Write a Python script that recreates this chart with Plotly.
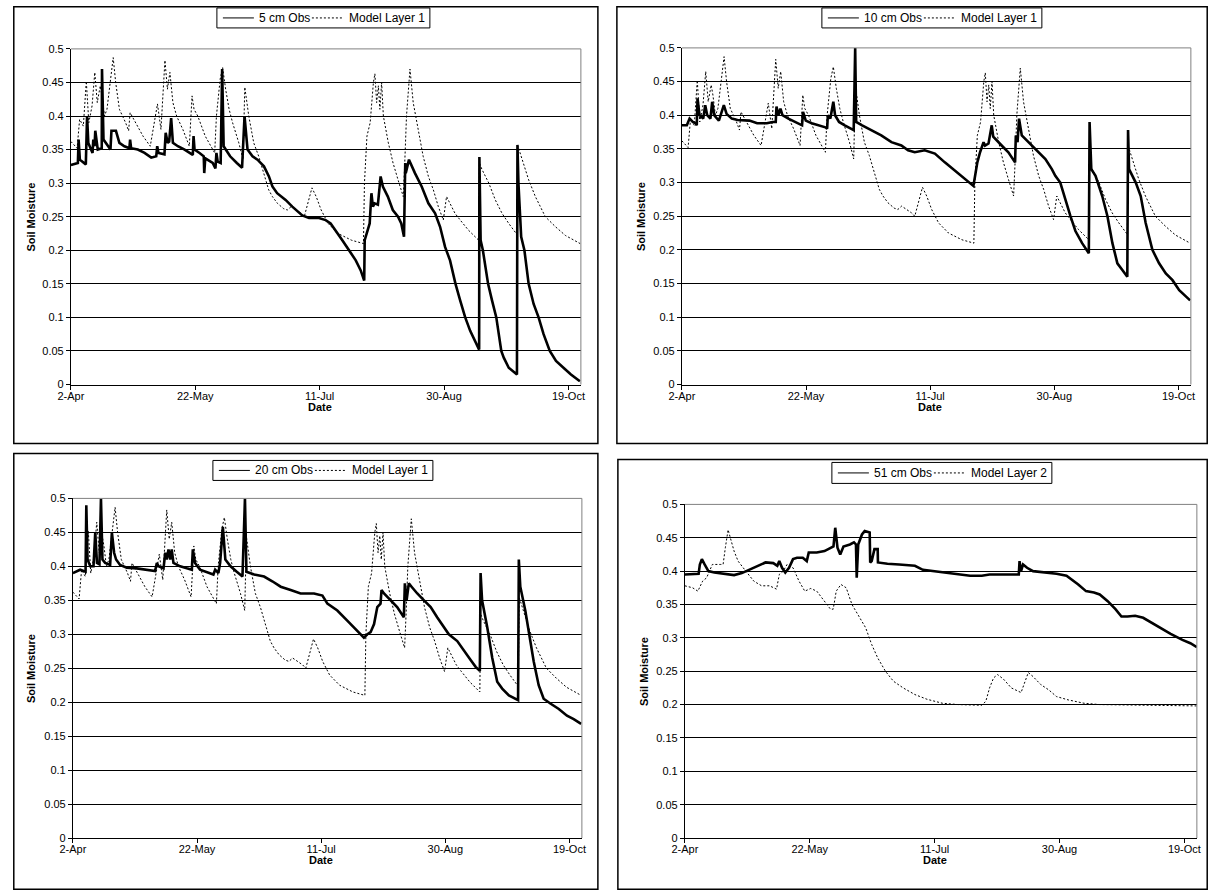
import pandas as pd
import plotly.graph_objects as go

# ---------------- data (day offsets from 2-Apr, soil moisture) ----------------
BASE_DATE = "2003-04-02"
X_END = "2003-10-24"
TICK_DATES = ["2003-04-02", "2003-05-22", "2003-07-11", "2003-08-30", "2003-10-19"]
TICK_TEXT = ["2-Apr", "22-May", "11-Jul", "30-Aug", "19-Oct"]
Y_TICKS = [0, 0.05, 0.1, 0.15, 0.2, 0.25, 0.3, 0.35, 0.4, 0.45, 0.5]
Y_TICK_TEXT = ["0", "0.05", "0.1", "0.15", "0.2", "0.25", "0.3", "0.35", "0.4", "0.45", "0.5"]

OBS_5CM = [
    (0, 0.327), (2.8, 0.33), (3.1, 0.365), (3.6, 0.335), (6.0, 0.328), (6.5, 0.40), (7.0, 0.36),
    (8.7, 0.345), (9.0, 0.365), (9.5, 0.355), (9.8, 0.378), (10.8, 0.35), (12.4, 0.352), (12.5, 0.47),
    (13.1, 0.365), (15.9, 0.35), (16.3, 0.378), (18.1, 0.378), (19.5, 0.36), (21.5, 0.355),
    (23.5, 0.352), (23.8, 0.365), (24.2, 0.352), (26.9, 0.35), (29.6, 0.345), (32.3, 0.338),
    (34.3, 0.34), (34.7, 0.355), (35.2, 0.345), (37.6, 0.343), (38.1, 0.375), (38.9, 0.36),
    (39.5, 0.362), (40.3, 0.397), (41.0, 0.36), (43.0, 0.355), (45.7, 0.35), (49.0, 0.342),
    (49.3, 0.37), (49.7, 0.35), (51.7, 0.345), (53.4, 0.34), (53.6, 0.315), (54.0, 0.337),
    (57.0, 0.33), (58.1, 0.322), (58.5, 0.345), (59.0, 0.332), (60.2, 0.33), (60.8, 0.47),
    (61.4, 0.355), (64.0, 0.34), (66.7, 0.33), (68.8, 0.323), (69.8, 0.40), (71.0, 0.35),
    (73.0, 0.34), (75.0, 0.335), (77.6, 0.325), (79.6, 0.31), (81.0, 0.295), (82.9, 0.285),
    (86.3, 0.275), (89.0, 0.265), (93.0, 0.252), (95.7, 0.248), (99.7, 0.248), (102.4, 0.245),
    (104.4, 0.24), (106.4, 0.23), (109.1, 0.215), (111.8, 0.20), (114.5, 0.185), (116.5, 0.17),
    (117.9, 0.155), (118.1, 0.215), (119.5, 0.235), (120.1, 0.24), (120.8, 0.285), (121.4, 0.265),
    (122.1, 0.27), (123.4, 0.268), (124.5, 0.31), (125.4, 0.295), (127.4, 0.28), (129.4, 0.26),
    (131.5, 0.25), (132.8, 0.24), (133.9, 0.22), (134.1, 0.32), (134.4, 0.33), (134.6, 0.315),
    (135.9, 0.335), (138.3, 0.315), (141.0, 0.295), (143.7, 0.27), (146.4, 0.255), (148.4, 0.235),
    (150.4, 0.205), (152.4, 0.185), (154.6, 0.15), (156.5, 0.125), (158.5, 0.10), (160.5, 0.08),
    (162.5, 0.065), (164.1, 0.052), (164.2, 0.339), (164.7, 0.215), (165.6, 0.20), (167.7, 0.15),
    (169.3, 0.125), (171.0, 0.10), (173.0, 0.05), (174.0, 0.04), (176.0, 0.025), (179.3, 0.015),
    (179.5, 0.357), (179.9, 0.30), (181.0, 0.22), (182.3, 0.20), (184.0, 0.15), (186.0, 0.12),
    (188.0, 0.10), (190.0, 0.075), (192.5, 0.05), (195.0, 0.035), (198.0, 0.025), (201.0, 0.015),
    (204.6, 0.005),
]

OBS_10CM = [
    (0, 0.385), (2.0, 0.385), (3.1, 0.395), (4.4, 0.39), (5.6, 0.388), (6.0, 0.385), (6.3, 0.425),
    (7.1, 0.40), (8.6, 0.395), (9.4, 0.415), (10.2, 0.40), (11.5, 0.395), (12.2, 0.42), (13.0, 0.40),
    (14.9, 0.392), (16.9, 0.415), (18.0, 0.402), (20.1, 0.395), (22.4, 0.393), (27.2, 0.392),
    (30.3, 0.388), (34.2, 0.388), (36.6, 0.39), (37.8, 0.39), (38.1, 0.413), (38.9, 0.40),
    (39.7, 0.41), (40.5, 0.40), (42.9, 0.395), (46.0, 0.39), (48.4, 0.385), (48.8, 0.405),
    (49.9, 0.392), (52.3, 0.388), (55.4, 0.385), (57.8, 0.382), (58.5, 0.38), (58.8, 0.40),
    (59.8, 0.395), (61.0, 0.42), (61.7, 0.40), (63.3, 0.39), (65.6, 0.385), (68.0, 0.38),
    (69.2, 0.378), (69.8, 0.50), (70.2, 0.39), (72.6, 0.385), (75.3, 0.38), (80.3, 0.37),
    (84.4, 0.36), (88.4, 0.355), (91.1, 0.348), (93.8, 0.345), (97.8, 0.348), (101.9, 0.343),
    (105.9, 0.33), (110.0, 0.318), (114.0, 0.305), (117.4, 0.295), (118.1, 0.31), (119.0, 0.33),
    (120.1, 0.345), (121.5, 0.36), (122.1, 0.355), (123.5, 0.358), (124.8, 0.385), (125.4, 0.368),
    (128.8, 0.355), (131.5, 0.345), (134.2, 0.33), (134.5, 0.37), (135.2, 0.36), (135.8, 0.395),
    (136.9, 0.37), (139.6, 0.36), (142.3, 0.35), (146.4, 0.335), (149.0, 0.32), (150.4, 0.31),
    (152.4, 0.30), (154.4, 0.275), (156.5, 0.25), (158.5, 0.228), (161.2, 0.21), (163.9, 0.195),
    (164.2, 0.39), (164.9, 0.32), (166.6, 0.31), (169.3, 0.28), (171.4, 0.25), (173.4, 0.21),
    (175.4, 0.18), (177.4, 0.17), (179.4, 0.16), (179.7, 0.378), (180.1, 0.32), (182.8, 0.30),
    (184.8, 0.28), (186.8, 0.24), (189.5, 0.20), (192.2, 0.18), (194.9, 0.165), (197.6, 0.155),
    (200.3, 0.14), (204.7, 0.125),
]

OBS_20CM = [
    (0, 0.39), (1.6, 0.393), (2.9, 0.395), (4.3, 0.393), (5.1, 0.392), (5.4, 0.49), (5.9, 0.41),
    (7.0, 0.40), (8.3, 0.40), (9.0, 0.45), (9.7, 0.405), (10.7, 0.403), (11.3, 0.50), (11.9, 0.41),
    (13.0, 0.405), (15.0, 0.402), (15.7, 0.45), (16.6, 0.42), (17.4, 0.41), (19.0, 0.402),
    (21.7, 0.398), (25.7, 0.397), (29.8, 0.395), (33.1, 0.393), (33.8, 0.405), (34.5, 0.40),
    (36.5, 0.397), (37.2, 0.42), (37.8, 0.41), (38.5, 0.425), (39.2, 0.41), (39.8, 0.425),
    (40.5, 0.405), (43.2, 0.40), (45.9, 0.397), (47.9, 0.395), (48.3, 0.425), (49.2, 0.405),
    (51.2, 0.395), (53.9, 0.392), (56.6, 0.388), (57.3, 0.395), (58.6, 0.39), (59.3, 0.405),
    (60.4, 0.458), (61.4, 0.41), (63.5, 0.40), (66.0, 0.392), (68.3, 0.385), (69.3, 0.50),
    (69.9, 0.392), (73.0, 0.388), (77.0, 0.385), (80.3, 0.378), (83.7, 0.37), (87.7, 0.365),
    (91.7, 0.36), (97.1, 0.36), (100.5, 0.357), (102.5, 0.345), (106.5, 0.335), (110.5, 0.32),
    (114.5, 0.305), (117.2, 0.295), (118.6, 0.30), (119.9, 0.303), (121.3, 0.315), (122.6, 0.34),
    (123.9, 0.345), (124.3, 0.365), (125.3, 0.36), (128.0, 0.35), (130.6, 0.34), (133.3, 0.325),
    (133.7, 0.375), (134.4, 0.35), (135.3, 0.375), (136.4, 0.37), (138.7, 0.36), (141.4, 0.35),
    (144.1, 0.34), (146.7, 0.325), (149.4, 0.31), (151.4, 0.30), (154.8, 0.29), (157.5, 0.275),
    (160.2, 0.262), (162.2, 0.252), (163.9, 0.246), (164.2, 0.39), (164.8, 0.35), (166.9, 0.31),
    (168.9, 0.265), (170.9, 0.23), (172.9, 0.22), (175.6, 0.21), (179.3, 0.203), (179.6, 0.41),
    (180.2, 0.37), (182.2, 0.335), (184.1, 0.295), (185.6, 0.26), (187.6, 0.225), (189.6, 0.205),
    (192.3, 0.198), (195.7, 0.19), (199.0, 0.18), (201.7, 0.175), (204.7, 0.168),
]

OBS_51CM = [
    (0, 0.395), (5.5, 0.396), (6.0, 0.41), (6.8, 0.418), (7.9, 0.41), (9.4, 0.40), (11.8, 0.398),
    (16.5, 0.396), (19.7, 0.394), (22.8, 0.397), (26.0, 0.402), (29.1, 0.408), (32.3, 0.413),
    (35.4, 0.412), (37.0, 0.408), (37.8, 0.415), (38.9, 0.405), (40.2, 0.398), (41.7, 0.405),
    (43.3, 0.418), (44.9, 0.42), (47.2, 0.42), (48.8, 0.415), (49.6, 0.428), (52.8, 0.428),
    (55.9, 0.43), (58.3, 0.435), (59.5, 0.437), (60.2, 0.465), (61.1, 0.435), (62.2, 0.425),
    (63.5, 0.437), (66.1, 0.44), (67.7, 0.443), (68.5, 0.44), (68.8, 0.39), (69.4, 0.44),
    (70.9, 0.455), (72.0, 0.46), (74.0, 0.458), (74.2, 0.413), (74.8, 0.415), (75.9, 0.433),
    (77.2, 0.433), (77.3, 0.413), (81.1, 0.411), (85.8, 0.41), (92.1, 0.408), (95.3, 0.402),
    (100.0, 0.40), (104.7, 0.398), (109.4, 0.396), (114.2, 0.393), (118.9, 0.393), (122.0, 0.395),
    (126.8, 0.395), (133.7, 0.395), (134.0, 0.415), (134.6, 0.40), (135.4, 0.41), (137.0, 0.405),
    (139.4, 0.40), (144.1, 0.398), (148.8, 0.396), (152.8, 0.393), (155.1, 0.387), (157.5, 0.38),
    (160.6, 0.37), (163.8, 0.368), (166.1, 0.365), (169.3, 0.355), (172.4, 0.343), (174.8, 0.332),
    (177.2, 0.332), (180.3, 0.333), (183.5, 0.33), (186.6, 0.323), (190.6, 0.315), (194.5, 0.306),
    (199.2, 0.297), (202.4, 0.292), (205.0, 0.286),
]

MODEL_LAYER_1 = [
    (0, 0.362), (2.5, 0.352), (3.5, 0.395), (5.0, 0.385), (6.2, 0.452), (7.2, 0.39), (8.5, 0.415),
    (9.6, 0.465), (10.6, 0.42), (11.8, 0.445), (12.5, 0.43), (13.5, 0.40), (14.5, 0.41), (17.0, 0.487),
    (18.0, 0.45), (19.5, 0.41), (22.0, 0.39), (23.2, 0.378), (23.8, 0.405), (26.0, 0.39), (29.0, 0.37),
    (31.9, 0.355), (33.0, 0.38), (34.8, 0.418), (36.2, 0.38), (37.8, 0.483), (38.8, 0.44),
    (39.8, 0.465), (41.0, 0.42), (42.5, 0.40), (45.0, 0.38), (47.6, 0.355), (48.7, 0.43), (49.5, 0.41),
    (51.0, 0.40), (54.0, 0.37), (57.8, 0.345), (58.5, 0.40), (60.0, 0.455), (61.0, 0.472),
    (62.2, 0.44), (63.6, 0.41), (65.0, 0.39), (67.5, 0.36), (69.2, 0.335), (69.9, 0.443),
    (71.5, 0.40), (73.5, 0.36), (75.5, 0.34), (77.6, 0.315), (79.5, 0.29), (81.0, 0.28), (83.0, 0.27),
    (85.5, 0.262), (87.0, 0.26), (88.5, 0.265), (90.5, 0.26), (92.5, 0.255), (93.8, 0.25),
    (95.2, 0.27), (96.9, 0.293), (98.6, 0.28), (100.6, 0.26), (103.4, 0.24), (107.4, 0.225),
    (112.8, 0.215), (117.6, 0.21), (118.0, 0.30), (119.0, 0.37), (120.3, 0.39), (121.6, 0.45),
    (122.2, 0.463), (122.9, 0.42), (123.6, 0.445), (124.2, 0.41), (124.9, 0.45), (125.6, 0.40),
    (127.6, 0.36), (129.5, 0.33), (131.5, 0.305), (133.6, 0.28), (134.2, 0.33), (134.9, 0.40),
    (136.3, 0.47), (137.6, 0.42), (139.6, 0.38), (141.6, 0.34), (143.7, 0.31), (145.7, 0.29),
    (147.7, 0.265), (149.7, 0.245), (151.0, 0.28), (152.4, 0.27), (154.4, 0.255), (156.5, 0.245),
    (159.8, 0.23), (163.9, 0.215), (164.2, 0.33), (165.3, 0.32), (168.0, 0.30), (170.6, 0.275),
    (173.3, 0.255), (176.0, 0.24), (179.4, 0.223), (179.7, 0.355), (181.3, 0.335), (184.0, 0.305),
    (186.7, 0.28), (190.7, 0.25), (194.8, 0.235), (198.8, 0.222), (204.7, 0.21),
]

MODEL_LAYER_2 = [
    (0, 0.378), (3.1, 0.375), (5.2, 0.37), (7.1, 0.385), (8.7, 0.39), (11.0, 0.41), (14.2, 0.41),
    (15.3, 0.41), (16.2, 0.435), (17.3, 0.462), (19.7, 0.43), (21.3, 0.415), (24.4, 0.40),
    (27.6, 0.385), (30.7, 0.378), (33.9, 0.378), (36.7, 0.373), (37.8, 0.395), (39.4, 0.40),
    (40.9, 0.41), (43.3, 0.405), (45.7, 0.385), (48.0, 0.37), (50.4, 0.374), (52.8, 0.37),
    (55.9, 0.355), (58.3, 0.343), (59.4, 0.343), (60.6, 0.37), (62.5, 0.38), (64.6, 0.375),
    (66.9, 0.35), (70.1, 0.33), (72.4, 0.315), (74.8, 0.29), (77.2, 0.27), (80.3, 0.25),
    (83.5, 0.235), (87.4, 0.225), (92.1, 0.215), (96.9, 0.208), (103.1, 0.202), (109.4, 0.20),
    (118.9, 0.199), (120.5, 0.205), (122.0, 0.225), (123.6, 0.24), (125.2, 0.245), (127.6, 0.238),
    (130.7, 0.225), (134.6, 0.218), (136.2, 0.235), (137.5, 0.248), (139.4, 0.242), (142.5, 0.23),
    (145.7, 0.222), (148.8, 0.212), (153.5, 0.207), (159.8, 0.202), (166.1, 0.20), (178.7, 0.199),
    (191.3, 0.199), (205.0, 0.198),
]

OBS_NAMES = ["5 cm Obs", "10 cm Obs", "20 cm Obs", "51 cm Obs"]
MODEL_NAMES = ["Model Layer 1", "Model Layer 1", "Model Layer 1", "Model Layer 2"]
OBS_SERIES = [OBS_5CM, OBS_10CM, OBS_20CM, OBS_51CM]
MODEL_SERIES = [MODEL_LAYER_1, MODEL_LAYER_1, MODEL_LAYER_1, MODEL_LAYER_2]

# ---------------- layout geometry (target pixels in the photographed picture) ----------------
W, H = 1212, 896
# measured photograph mapping: shown = S * page + O  (compensated below)
SX, OX, SY, OY = 0.986, 12.1, 0.9877, 5.05
# plot areas: (x_left, x_right, y_top, y_bottom)
PLOTS = [(70, 580, 48, 384), (681, 1190, 47, 384), (72, 581, 498, 838), (684, 1196, 504, 838)]
BOXES = [(5, 597, 4, 443), (616, 1207, 4, 443), (5, 597, 453, 895), (617, 1207, 459, 895)]
# legend: box left, box top, box bottom, estimated label widths (px)
LEGENDS = [(216, 7, 27, 51, 77), (821, 7, 27, 58, 77), (212, 460, 480, 58, 77), (831, 462, 483, 58, 77)]
DATE_OFFSET = 22
YT_X = [30, 640, 30, 643]

FONT = "Liberation Sans, Arial, sans-serif"
base = pd.Timestamp(BASE_DATE)


def to_dates(series):
    return [base + pd.Timedelta(days=d) for d, _ in series]


def page_x(x):
    return min(max((x - OX) / SX, 0.8), W - 0.8)


def page_y(y):
    return min(max((y - OY) / SY, 0.8), H - 0.8)


def px_x(x):
    return page_x(x) / W


def px_y(y):
    return 1 - page_y(y) / H


fig = go.Figure()
layout = dict(
    width=W, height=H, margin=dict(l=0, r=0, t=0, b=0), autosize=False,
    paper_bgcolor="white", plot_bgcolor="white", showlegend=False,
    font=dict(family=FONT, size=11, color="black"),
)
shapes = []
annotations = []

for i in range(4):
    k = "" if i == 0 else str(i + 1)
    xa, ya = "x" + k, "y" + k
    obs, mod = OBS_SERIES[i], MODEL_SERIES[i]
    fig.add_trace(go.Scatter(
        x=to_dates(obs), y=[v for _, v in obs], mode="lines", name=OBS_NAMES[i],
        line=dict(color="black", width=2.6), xaxis=xa, yaxis=ya))
    fig.add_trace(go.Scatter(
        x=to_dates(mod), y=[v for _, v in mod], mode="lines", name=MODEL_NAMES[i],
        line=dict(color="black", width=1, dash="2px,2px"), xaxis=xa, yaxis=ya))

    xl, xr, yt, yb = PLOTS[i]
    layout["xaxis" + k] = dict(
        domain=[px_x(xl), px_x(xr)], anchor=ya, type="date",
        range=[BASE_DATE, X_END], tickvals=TICK_DATES, ticktext=TICK_TEXT,
        ticks="outside", ticklen=4, tickcolor="black", showline=True, linecolor="black",
        linewidth=1, showgrid=False, zeroline=False, ticklabelstandoff=-3,
        tickfont=dict(size=11, family=FONT),
    )
    layout["yaxis" + k] = dict(
        domain=[px_y(yb), px_y(yt)], anchor=xa, range=[0, 0.5],
        tickvals=Y_TICKS, ticktext=Y_TICK_TEXT, ticks="outside", ticklen=4, tickcolor="black",
        showline=True, linecolor="black", linewidth=1, showgrid=True, gridcolor="black",
        gridwidth=1, zeroline=False, tickfont=dict(size=11, family=FONT),
    )
    # plot area border (grey top/right)
    shapes.append(dict(type="line", xref="paper", yref="paper", x0=px_x(xl), x1=px_x(xr),
                       y0=px_y(yt), y1=px_y(yt), line=dict(color="#808080", width=1)))
    shapes.append(dict(type="line", xref="paper", yref="paper", x0=px_x(xr), x1=px_x(xr),
                       y0=px_y(yt), y1=px_y(yb), line=dict(color="#808080", width=1)))
    # outer chart box
    bx0, bx1, by0, by1 = BOXES[i]
    shapes.append(dict(type="rect", xref="paper", yref="paper", x0=px_x(bx0), x1=px_x(bx1),
                       y0=px_y(by1), y1=px_y(by0), line=dict(color="black", width=1.5),
                       layer="below"))
    # legend (box, samples, labels)
    lx0, ly0, ly1, w1, w2 = LEGENDS[i]
    s0 = lx0 + 6
    s1 = s0 + 31
    t1 = s1 + 3
    d0 = t1 + w1 + 4
    d1 = d0 + 32
    t2 = d1 + 3
    lx1 = t2 + w2 + 6
    lyc = (ly0 + ly1) / 2
    shapes.append(dict(type="rect", xref="paper", yref="paper", x0=px_x(lx0), x1=px_x(lx1),
                       y0=px_y(ly1), y1=px_y(ly0), line=dict(color="black", width=1),
                       fillcolor="white"))
    shapes.append(dict(type="line", xref="paper", yref="paper", x0=px_x(s0), x1=px_x(s1),
                       y0=px_y(lyc), y1=px_y(lyc), line=dict(color="black", width=1)))
    shapes.append(dict(type="line", xref="paper", yref="paper", x0=px_x(d0), x1=px_x(d1),
                       y0=px_y(lyc), y1=px_y(lyc), line=dict(color="black", width=1, dash="2px,2px")))
    annotations.append(dict(text=OBS_NAMES[i], xref="paper", yref="paper", x=px_x(t1),
                            y=px_y(lyc), showarrow=False, xanchor="left", yanchor="middle",
                            font=dict(size=12, family=FONT)))
    annotations.append(dict(text=MODEL_NAMES[i], xref="paper", yref="paper", x=px_x(t2),
                            y=px_y(lyc), showarrow=False, xanchor="left", yanchor="middle",
                            font=dict(size=12, family=FONT)))
    # axis titles
    annotations.append(dict(text="<b>Date</b>", xref="paper", yref="paper",
                            x=px_x((xl + xr) / 2 - 6), y=px_y(yb + DATE_OFFSET), showarrow=False,
                            xanchor="center", yanchor="middle", font=dict(size=11, family=FONT)))
    annotations.append(dict(text="<b>Soil Moisture</b>", xref="paper", yref="paper",
                            x=px_x(YT_X[i]), y=px_y((yt + yb) / 2), showarrow=False, textangle=-90,
                            xanchor="center", yanchor="middle", font=dict(size=11, family=FONT)))

layout["shapes"] = shapes
layout["annotations"] = annotations
fig.update_layout(**layout)
fig.write_html(
    "out.html",
    config={"displayModeBar": False, "responsive": False},
    post_script=(
        "document.documentElement.style.margin='0';document.documentElement.style.overflow='hidden';"
        "document.body.style.margin='0';document.body.style.padding='0';document.body.style.overflow='hidden';"
        "var gd=document.getElementById('{plot_id}');gd.style.position='fixed';"
        "gd.style.left='0px';gd.style.top='0px';"
    ),
)
